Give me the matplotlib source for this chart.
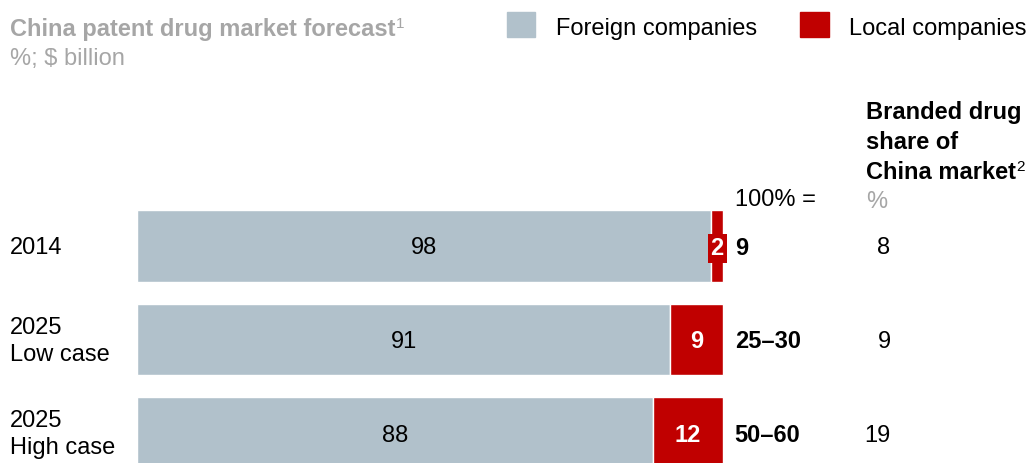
import matplotlib.pyplot as plt

plt.rcParams['font.family'] = ['Liberation Sans', 'DejaVu Sans']

years = ['2014', '2025\nLow case', '2025\nHigh case']
foreign = [98, 91, 88]
local = [2, 9, 12]
totals = ['9', '25–30', '50–60']
branded_share = ['8', '9', '19']

gray = '#B1C1CB'
red = '#C00000'
title_gray = '#A6A6A6'

W, H = 1032, 463
fig = plt.figure(figsize=(W / 100, H / 100), dpi=100)
ax = fig.add_axes([0, 0, 1, 1])
# x in percent of bar width, y in row units
ax.set_xlim(-137 / 586 * 100, (W - 137) / 586 * 100)
ax.set_ylim((H - 246) / 93.5, -246 / 93.5)
ax.axis('off')

rows = range(len(years))
ax.barh(rows, foreign, height=0.76, color=gray, edgecolor='white', linewidth=1)
ax.barh(rows, local, left=foreign, height=0.76, color=red, edgecolor='white', linewidth=1)

fs = 17
for i in rows:
    ax.text(-127 / 586 * 100, i + 0.02, years[i], fontsize=fs, va='center', ha='left', linespacing=1.3)
    ax.text(foreign[i] / 2, i, str(foreign[i]), fontsize=fs, va='center_baseline', ha='center')
    if local[i] < 5:
        ax.text(foreign[i] + local[i] / 2, i, str(local[i]), fontsize=fs, va='center_baseline', ha='center',
                color='white', fontweight='bold',
                bbox=dict(boxstyle='square,pad=0.12', fc=red, ec='none'))
    else:
        ax.text(foreign[i] + local[i] / 2, i, str(local[i]), fontsize=fs, va='center_baseline', ha='center',
                color='white', fontweight='bold')
    ax.text(102, i, totals[i], fontsize=fs, va='center_baseline', ha='left', fontweight='bold')
    ax.text(128.6, i, branded_share[i], fontsize=fs, va='center_baseline', ha='right')

ax.text(102, -0.52, '100% =', fontsize=fs, va='center_baseline', ha='left')

renderer = fig.canvas.get_renderer()


def sup(t, s, color):
    # small regular-weight superscript after text t
    bb = t.get_window_extent(renderer)
    fig.text((bb.x1 + 0.5) / W, (bb.y1 + 1) / H, s, fontsize=11, color=color, va='top', ha='left')


def ftext(x, y, s, **kw):
    return fig.text(x / W, 1 - y / H, s, fontsize=fs, va='center_baseline', **kw)


# column header
ftext(866, 110, 'Branded drug', fontweight='bold')
ftext(866, 140, 'share of', fontweight='bold')
t = ftext(866, 170, 'China market', fontweight='bold')
sup(t, '2', 'black')
ftext(866, 199, '%', color=title_gray)

# title
t = ftext(10, 27, 'China patent drug market forecast', fontweight='bold', color=title_gray)
sup(t, '1', title_gray)
ftext(10, 56, '%; $ billion', color=title_gray)

# legend
fig.patches.append(plt.Rectangle((507 / W, 1 - 37 / H), 28 / W, 25 / H,
                                 transform=fig.transFigure, color=gray))
ftext(556, 26, 'Foreign companies')
fig.patches.append(plt.Rectangle((800 / W, 1 - 37 / H), 29 / W, 25 / H,
                                 transform=fig.transFigure, color=red))
ftext(849, 26, 'Local companies')

fig.savefig('out.png', dpi=100)
